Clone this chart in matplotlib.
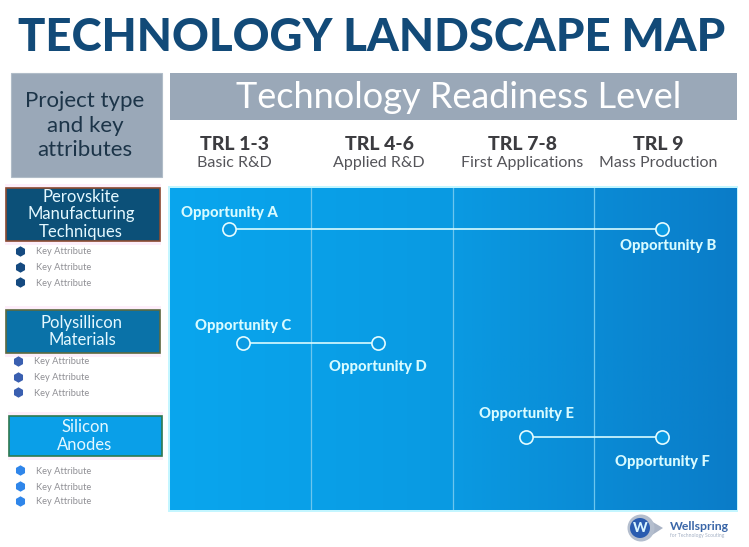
import matplotlib
matplotlib.use("Agg")
import matplotlib.pyplot as plt
import numpy as np
from matplotlib.patches import Circle, Polygon, Rectangle

W, H = 749, 547

trl_titles = ["TRL 1-3", "TRL 4-6", "TRL 7-8", "TRL 9"]
trl_subtitles = ["Basic R&D", "Applied R&D", "First Applications", "Mass Production"]

# opportunity pairs: x in TRL columns, y in px down from the panel top
pair_starts = [0.42, 0.52, 2.52]
pair_ends = [3.48, 1.47, 3.48]
pair_rows = [41, 155, 249]
start_names = ["Opportunity A", "Opportunity C", "Opportunity E"]
end_names = ["Opportunity B", "Opportunity D", "Opportunity F"]

project_names = ["Perovskite\nManufacturing\nTechniques", "Polysillicon\nMaterials", "Silicon\nAnodes"]
project_colors = ["#0c5078", "#0a72a8", "#0a9fe8"]
project_edges = ["#8a4a30", "#5c6a40", "#2f7a50"]
dot_colors = ["#154a80", "#3a5fb0", "#2f86ea"]

plt.rcParams["font.family"] = ["Lato", "DejaVu Sans"]
fig = plt.figure(figsize=(W / 100, H / 100), dpi=100, facecolor="white")

# page axes in pixels, everything around the panel hangs off this
page = fig.add_axes([0, 0, 1, 1])
page.set_xlim(0, W)
page.set_ylim(H, 0)
page.axis("off")

page.text(372, 38, "TECHNOLOGY LANDSCAPE MAP", color="#124a78", fontsize=32.8, fontweight="black",
          ha="center", va="center")

page.add_patch(Rectangle((11, 73), 151, 104, fc="#9aa8b8", ec="#b0bcc8", lw=0.8))
page.add_patch(Rectangle((170, 73), 567, 47, fc="#9aa8b8", ec="none"))
page.text(85, 125.5, "Project type\nand key\nattributes", color="#1c3448", fontsize=16, ha="center",
          va="center", linespacing=1.27)
page.text(459, 97, "Technology Readiness Level", color="white", fontsize=26, ha="center", va="center")

trl_px = [234, 379, 522, 658]
for x, title, sub in zip(trl_px, trl_titles, trl_subtitles):
    page.text(x, 144, title, color="#3c3c40", fontsize=14, fontweight="black", ha="center", va="center")
    page.text(x, 163, sub, color="#55555a", fontsize=11.5, ha="center", va="center")

# project boxes and their attribute bullets
boxes = [(6, 188, 154, 53), (6, 310, 154, 43), (9, 416, 153, 40)]
name_x = [81, 82, 85]
dot_rows = [(251, 267, 282), (361, 377, 392), (470, 486, 501)]
dot_x = [20, 18, 20]
for i, (x, y, w, h) in enumerate(boxes):
    page.add_patch(Rectangle((x - 1, y - 4), w + 2, h + 8, fc="#fdeefa", ec="none"))
    page.add_patch(Rectangle((x, y), w, h, fc=project_colors[i], ec=project_edges[i], lw=1.2))
    page.text(name_x[i], y + h / 2, project_names[i], color="#e4f8ff", fontsize=12, ha="center",
              va="center", linespacing=1.15)
    for row in dot_rows[i]:
        page.plot(dot_x[i], row, marker="h", ms=7.5, color=dot_colors[i], mec="none")
        page.text(dot_x[i] + 16, row + 1, "Key Attribute", color="#8f8f94", fontsize=6.7, va="center")

# logo
page.add_patch(Polygon([(646, 518), (663, 528), (646, 539)], fc="#aab4c6", ec="none"))
page.add_patch(Circle((641, 528), 13.5, fc="#b4bece", ec="none"))
page.add_patch(Circle((640, 528), 10, fc="#2a5cb0", ec="none"))
page.text(640, 528, "W", color="#d8f4ff", fontsize=10, fontweight="black", ha="center", va="center")
page.text(670, 527, "Wellspring", color="#3a66a8", fontsize=8.8, fontweight="bold", va="center")
page.text(670, 536, "for Technology Scouting", color="#a4b0c4", fontsize=3.6, va="center")

# main panel
page.add_patch(Rectangle((168, 186), 570, 326, fc="#c4f6ff", ec="none"))
ax = fig.add_axes([169.5 / W, 1 - 510 / H, 566.5 / W, 322 / H])
ax.set_xlim(0, 4)
ax.set_ylim(322, 0)
ax.axis("off")
gradient = np.linspace(0, 1, 256).reshape(1, -1)
cmap = matplotlib.colors.LinearSegmentedColormap.from_list("panel", ["#09a6ee", "#0a9ae2", "#0a7cc8"])
ax.imshow(gradient, extent=(0, 4, 322, 0), aspect="auto", cmap=cmap, zorder=0)

for x in [1, 2, 3]:
    ax.axvline(x, color="#6cc6ee", lw=0.9, zorder=1)

start_dy = [-16, -17, -23]
end_dy = [17, 24, 25]
end_dx = [0.04, 0, 0]
for i, (x0, x1, y) in enumerate(zip(pair_starts, pair_ends, pair_rows)):
    ax.plot([x0, x1], [y, y], color="#d8fbff", lw=1.2, zorder=2)
    ax.plot([x0, x1], [y, y], ls="none", marker="o", ms=9.5, mfc="#0a9ae2", mec="#e4fcff", mew=1.2, zorder=3)
    ax.text(x0, y + start_dy[i], start_names[i], color="#d8fbff", fontsize=10.6, fontweight="black",
            ha="center", va="center")
    ax.text(x1 + end_dx[i], y + end_dy[i], end_names[i], color="#d8fbff", fontsize=10.6, fontweight="black",
            ha="center", va="center")

fig.savefig("out.png", dpi=100)
